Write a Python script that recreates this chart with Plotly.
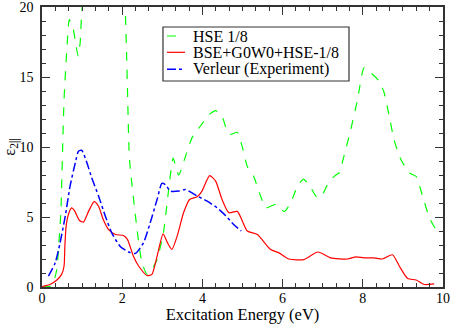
import plotly.graph_objects as go

# HSE 1/8 (values above 20 are clipped by the axis range)
hse_x = [0.0, 0.2, 0.28, 0.37, 0.41, 0.47, 0.52, 0.55, 0.62, 0.68, 0.78, 0.85, 0.9, 0.95, 1.0,
         1.2, 1.5, 1.8, 2.0, 2.07, 2.17, 2.2, 2.37, 2.49, 2.62, 2.74, 2.87, 3.03, 3.16, 3.27,
         3.41, 3.58, 3.74, 3.95, 4.16, 4.33, 4.49, 4.62, 4.7, 4.87, 4.99, 5.12, 5.28, 5.45,
         5.58, 5.7, 5.83, 5.91, 6.05, 6.2, 6.37, 6.52, 6.66, 6.83, 6.95, 7.16, 7.33, 7.41,
         7.53, 7.7, 7.87, 8.03, 8.2, 8.41, 8.53, 8.66, 8.78, 8.95, 9.16, 9.33, 9.49, 9.66,
         9.83, 9.95, 10.0]
hse_y = [0.0, 0.05, 0.3, 1.25, 2.7, 5.3, 10.5, 13.4, 17.0, 19.1, 18.4, 17.2, 16.5, 17.4, 19.9,
         23.0, 25.0, 24.0, 21.5, 20.0, 9.8, 8.5, 4.1, 1.75, 0.9, 1.25, 1.96, 3.9, 7.0, 9.2,
         8.0, 9.35, 10.65, 11.5, 12.3, 12.6, 12.2, 11.1, 10.9, 11.05, 10.06, 8.6, 7.9, 6.5,
         5.65, 5.77, 5.9, 5.65, 5.4, 6.0, 7.2, 7.7, 7.3, 6.5, 6.4, 7.55, 8.0, 8.15,
         9.35, 11.25, 13.4, 15.65, 15.3, 14.7, 13.9, 12.2, 10.5, 9.1, 8.15, 7.9, 6.5, 4.95,
         4.1, 4.0, 4.0]

# BSE+G0W0+HSE-1/8
bse_x = [0.0, 0.03, 0.2, 0.37, 0.49, 0.55, 0.57, 0.6, 0.66, 0.74, 0.82, 0.93, 1.03, 1.16, 1.3,
         1.41, 1.53, 1.66, 1.83, 2.03, 2.13, 2.28, 2.41, 2.62, 2.74, 2.87, 3.02, 3.13, 3.24,
         3.37, 3.53, 3.68, 3.87, 3.99, 4.18, 4.33, 4.49, 4.66, 4.87, 5.12, 5.37, 5.7, 5.91,
         6.16, 6.53, 6.88, 7.2, 7.62, 7.83, 8.03, 8.28, 8.49, 8.74, 8.91, 9.12, 9.33, 9.53,
         9.78]
bse_y = [0.0, 0.05, 0.18, 0.5, 0.9, 1.5, 2.9, 4.3, 5.2, 5.65, 5.4, 4.77, 4.63, 5.4, 6.1,
         5.77, 4.8, 4.1, 3.75, 3.68, 3.4, 2.2, 1.5, 0.82, 0.9, 2.2, 3.8, 3.15, 2.68,
         3.63, 5.3, 6.25, 6.44, 6.85, 7.96, 7.56, 6.25, 5.3, 5.4, 4.0, 3.75, 2.68, 2.44,
         2.0, 1.96, 2.5, 2.08, 2.0, 2.15, 2.08, 2.08, 2.0, 2.3, 1.5, 0.6, 0.5, 0.18,
         0.22]

# Verleur (Experiment)
exp_x = [0.16, 0.33, 0.45, 0.58, 0.7, 0.83, 0.91, 0.99, 1.12, 1.24, 1.41, 1.58, 1.74, 1.95,
         2.16, 2.33, 2.53, 2.7, 2.87, 2.99, 3.08, 3.2, 3.41, 3.58, 3.87, 4.12, 4.37, 4.58,
         4.78, 4.97]
exp_y = [0.77, 1.73, 3.15, 5.06, 7.2, 8.87, 9.7, 9.77, 8.87, 7.8, 6.5, 5.06, 3.87, 2.9,
         2.5, 2.4, 3.15, 4.6, 6.25, 7.4, 7.3, 6.85, 6.85, 6.96, 6.5, 6.13, 5.65, 5.1,
         4.46, 4.0]

series_names = ["HSE 1/8", "BSE+G0W0+HSE-1/8", "Verleur (Experiment)"]
series_colors = ["#00ff00", "#ff0000", "#0000ff"]
series_dash = ["dash", "solid", "dashdot"]

x_ticks = [0, 2, 4, 6, 8, 10]
y_ticks = [0, 5, 10, 15, 20]

FONT = "'Liberation Serif', 'Times New Roman', Times, serif"

fig = go.Figure()
for xs, ys, name, col, dash, w, sm in [
    (hse_x, hse_y, series_names[0], series_colors[0], series_dash[0], 1.2, 0.5),
    (bse_x, bse_y, series_names[1], series_colors[1], series_dash[1], 1.2, 0.6),
    (exp_x, exp_y, series_names[2], series_colors[2], series_dash[2], 1.5, 0.6),
]:
    fig.add_trace(go.Scatter(x=xs, y=ys, mode="lines", name=name, showlegend=False,
                             line=dict(color=col, width=w, dash=dash, shape="spline", smoothing=sm)))

axis_common = dict(showgrid=False, zeroline=False, showline=True, linecolor="#333333", linewidth=1.5,
                   mirror="ticks", ticks="inside", ticklen=8, tickwidth=1.2, tickcolor="#333333",
                   automargin=False, ticklabeloverflow="allow",
                   tickfont=dict(family=FONT, size=14, color="black"))

fig.update_xaxes(range=[0, 10], tickvals=x_ticks, ticktext=[str(v) for v in x_ticks],
                 minor=dict(dtick=1/3, tick0=0, ticks="inside", ticklen=4, tickcolor="#333333"),
                 ticklabelstandoff=-3,
                 title=dict(text="Excitation Energy (eV)", font=dict(family=FONT, size=16.5, color="black"),
                            standoff=2),
                 **axis_common)
fig.update_yaxes(range=[0, 20], tickvals=y_ticks, ticktext=[str(v) for v in y_ticks],
                 minor=dict(dtick=1, tick0=0, ticks="inside", ticklen=4, tickcolor="#333333"),
                 ticklabelstandoff=4,
                 title=dict(text="ε<sub>2||</sub>", font=dict(family=FONT, size=16.5, color="black"),
                            standoff=0),
                 **axis_common)

# Legend box drawn in paper coordinates (matching the compact original legend)
shapes = [dict(type="rect", xref="paper", yref="paper", x0=0.3017, x1=0.7656, y0=0.7357, y1=0.9286,
               line=dict(color="#333333", width=1.2), fillcolor="white", layer="above")]
annotations = []
leg_y = [0.8964, 0.8382, 0.7775]
for i in range(3):
    shapes.append(dict(type="line", xref="paper", yref="paper", x0=0.3117, x1=0.3566,
                       y0=leg_y[i], y1=leg_y[i], layer="above",
                       line=dict(color=series_colors[i], width=1.5 if i == 2 else 1.2, dash=series_dash[i])))
    annotations.append(dict(xref="paper", yref="paper", x=0.372, y=leg_y[i], xanchor="left", yanchor="middle",
                            text=series_names[i], showarrow=False,
                            font=dict(family=FONT, size=16, color="black")))

fig.update_layout(
    width=453, height=324,
    margin=dict(l=42, r=10, t=7, b=37),
    paper_bgcolor="white", plot_bgcolor="white",
    shapes=shapes, annotations=annotations,
    showlegend=False,
    font=dict(family=FONT),
)

fig.write_html("out.html", config={"displayModeBar": False},
               post_script="document.body.style.margin='0px';document.body.style.overflow='hidden';")
